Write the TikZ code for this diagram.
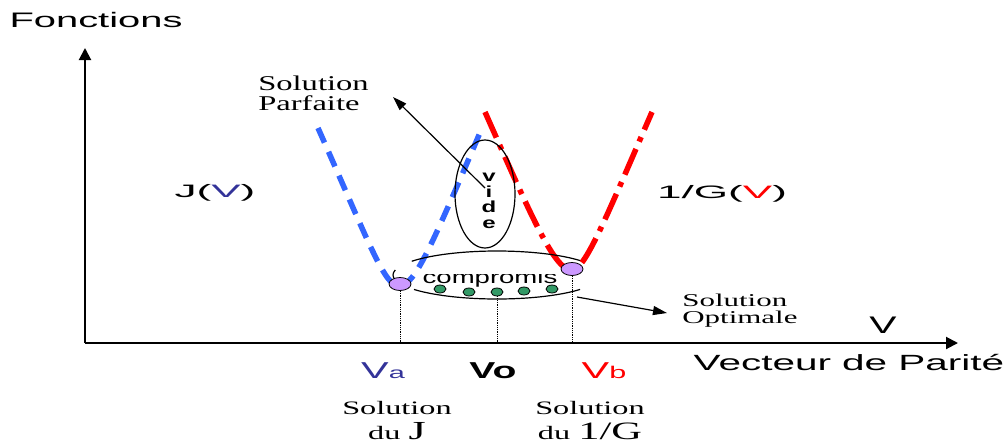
\documentclass[tikz,border=0pt]{standalone}
\usepackage{fontspec}
\setmainfont{Liberation Serif}
\setsansfont{Liberation Sans}
\usepackage{xcolor}
\usetikzlibrary{arrows.meta,positioning,shapes.geometric}
\definecolor{bleuJ}{HTML}{3366FF}
\definecolor{bleuVa}{HTML}{333399}
\definecolor{rose}{HTML}{CC99FF}
\definecolor{vert}{HTML}{339966}

\begin{document}
\begin{tikzpicture}[
  x=1pt, y=-1pt,
  txt/.style={inner sep=0pt, xscale=#1},
  axis/.style={line width=2pt, -{Triangle[length=12pt,width=12pt]}},
  arrow/.style={line width=1.2pt, -{Triangle[length=14pt,width=9pt]}},
  courbeJ/.style={bleuJ, line width=5.5pt, dash pattern=on 16pt off 10pt},
  courbeG/.style={red, line width=5.5pt, dash pattern=on 28pt off 8pt on 5pt off 8pt},
  pdot/.style={ellipse, draw, thick, fill=rose, minimum width=22pt,
    minimum height=13pt, inner sep=0pt},
  gdot/.style={ellipse, draw, thick, fill=vert, minimum width=12pt,
    minimum height=8pt, inner sep=0pt},
  proj/.style={densely dotted, thick}
]
\useasboundingbox (0,0) rectangle (1007,445);

% Axes
\coordinate (O) at (85,343);
\coordinate (Ytip) at (85,48);
\coordinate (Xtip) at (958,343);
\draw[axis] (O) -- (Ytip);
\draw[axis] (O) -- (Xtip);
\node[txt=1.9, anchor=base, font=\sffamily\fontsize{21}{24}\selectfont] (fonc) at (96,27) {Fonctions};
\node[txt=1.7, anchor=base, font=\sffamily\fontsize{24}{26}\selectfont] (vlab) at (883,333) {V};
\node[txt=1.84, anchor=base, font=\sffamily\fontsize{22}{24}\selectfont] (vecteur) at (849,370) {Vecteur de Parité};

% Courbes
\draw[courbeJ] (318,128) .. controls (370,245) and (385,288) .. (400,286)
  .. controls (415,284) and (430,250) .. (482,128);
\draw[courbeG] (485,112) .. controls (535,225) and (555,270) .. (572,270)
  .. controls (585,270) and (605,220) .. (652,112);
\node[txt=2.45, anchor=base, font=\sffamily\fontsize{18}{20}\selectfont] (J) at (215,197) {J(\textcolor{bleuVa}{V})};
\node[txt=2.45, anchor=base, font=\sffamily\fontsize{18}{20}\selectfont] (G) at (722,198) {1/G(\textcolor{red}{V})};

% Vide
\node[ellipse, draw, line width=1.2pt, minimum width=60pt, minimum height=108pt] (vide) at (485,194) {};
\node[txt=1.5, align=center, font=\sffamily\bfseries\fontsize{16}{15.5}\selectfont] (videtxt) at (489,201) {v\\i\\d\\e};
\coordinate (vdep) at (485,188);
\coordinate (parfTip) at (393,97);
\draw[arrow] (vdep) -- (parfTip);
\node[txt=1.55, anchor=west, align=left, font=\rmfamily\fontsize{21}{20}\selectfont] (parf) at (258,93) {Solution\\Parfaite};

% Compromis
\coordinate (cmp) at (497,275);
\draw[line width=1.2pt] ([shift={(-145:104 and 24)}]cmp) arc[start angle=-145, end angle=-37, x radius=104, y radius=24];
\draw[line width=1.2pt] ([shift={(143:104 and 24)}]cmp) arc[start angle=143, end angle=37, x radius=104, y radius=24];
\draw[line width=1.2pt] ([shift={(168:104 and 24)}]cmp) arc[start angle=168, end angle=192, x radius=104, y radius=24];
\begin{scope}
  \clip (405,274) rectangle (575,295);
  \node[txt=1.53, anchor=base, font=\sffamily\fontsize{18}{20}\selectfont] (comp) at (490,283) {compromis};
\end{scope}
\foreach \x/\y [count=\i] in {440/289, 469/292, 497/292, 524/291, 552/289}
  \node[gdot] (g\i) at (\x,\y) {};
\node[pdot] (Pa) at (400,284) {};
\node[pdot] (Pb) at (572,269) {};

% Projections
\draw[proj] (Pa.south) -- (Pa.south |- O);
\draw[proj] (g3.south) -- (g3.south |- O);
\draw[proj] (Pb.south) -- (Pb.south |- O);

% Solution optimale
\coordinate (optDep) at (577,297);
\coordinate (optTip) at (667,313);
\draw[arrow] (optDep) -- (optTip);
\node[txt=1.72, anchor=west, align=left, font=\rmfamily\fontsize{18}{17}\selectfont] (opt) at (682,311) {Solution\\Optimale};

% Valeurs
\node[txt=1.8, anchor=base, text=bleuVa, font=\sffamily\fontsize{23}{25}\selectfont] (Va) at (383,378) {V{\fontsize{16}{18}\selectfont a}};
\node[txt=1.7, anchor=base, font=\sffamily\bfseries\fontsize{23}{25}\selectfont] (Vo) at (493,378) {Vo};
\node[txt=1.8, anchor=base, text=red, font=\sffamily\fontsize{23}{25}\selectfont] (Vb) at (604,378) {V{\fontsize{17}{18}\selectfont b}};
\node[txt=1.7, anchor=north, align=center, font=\rmfamily\fontsize{19}{25}\selectfont] (solJ) at (397,401) {Solution\\du {\fontsize{26}{26}\selectfont J}};
\node[txt=1.7, anchor=north, align=center, font=\rmfamily\fontsize{19}{25}\selectfont] (solG) at (590,401) {Solution\\du {\fontsize{25}{26}\selectfont 1/G}};
\end{tikzpicture}
\end{document}
